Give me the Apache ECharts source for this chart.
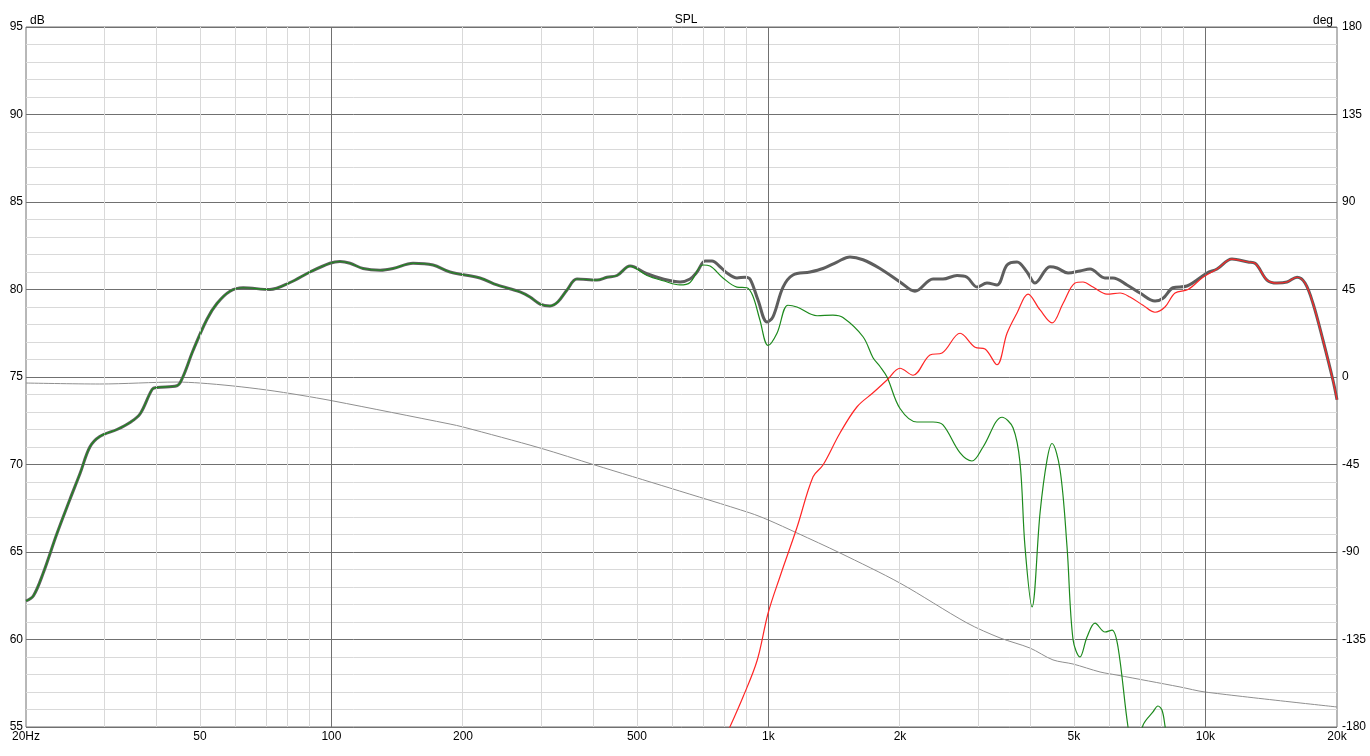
<!DOCTYPE html>
<html>
<head>
<meta charset="utf-8">
<title>SPL</title>
<script src="https://cdn.jsdelivr.net/npm/echarts@6/dist/echarts.min.js"></script>
<style>
  html, body { margin: 0; padding: 0; background: #fff; }
  #chart { width: 1370px; height: 756px; }
</style>
</head>
<body>
<div id="chart"></div>
<script>
// frequency axis labels and grid positions (Hz)
var freqTicks = [20, 50, 100, 200, 500, 1000, 2000, 5000, 10000, 20000];
var freqTickText = ["20Hz", "50", "100", "200", "500", "1k", "2k", "5k", "10k", "20k"];
var decadeLines = [100, 1000, 10000];
var minorLines = [30, 40, 50, 60, 70, 80, 90,
  200, 300, 400, 500, 600, 700, 800, 900,
  2000, 3000, 4000, 5000, 6000, 7000, 8000, 9000];

// summed response (grey, thick)
var sumFreq = [20, 20.8, 21.9, 23.5, 25.2, 26.6, 28.0, 29.5, 32.3, 34.6, 36.5, 38.9, 39.9,
  44.3, 45.7, 48.2, 51.9, 54.7, 58.6, 62.8, 72.3, 80.4, 89.3, 99.2, 104.6, 110.3, 118.1,
  129.2, 138.3, 153.7, 170.8, 186.8, 218.7, 239.3, 270.1, 284.7, 300.1, 316.3, 329.9,
  345.9, 364.6, 405.2, 427.1, 450.2, 482.3, 527.3, 573.9, 627.7, 661.6, 686.4, 716.0,
  742.9, 774.8, 803.8, 847.3, 883.7, 907.3, 946.4, 992.5, 1024, 1080, 1138, 1245, 1333,
  1435, 1537, 1646, 1800, 2000, 2164, 2380, 2508, 2701, 2847, 3001, 3163, 3334, 3515,
  3705, 3905, 4074, 4408, 4575, 4848, 5164, 5444, 5890, 6144, 6614, 7083, 7666, 7996,
  8428, 9073, 10084, 10628, 11500, 12514, 12984, 13830, 14578, 15372, 16202, 16898,
  17626, 18578, 19584, 20000];
var sumDb = [62.2, 62.5, 63.8, 66.0, 68.0, 69.5, 71.0, 71.6, 72.0, 72.4, 72.9, 74.3, 74.4,
  74.5, 75.0, 76.5, 78.3, 79.2, 79.9, 80.1, 80.0, 80.4, 81.0, 81.5, 81.6, 81.5, 81.2,
  81.1, 81.2, 81.5, 81.4, 81.0, 80.66, 80.26, 79.86, 79.57, 79.17, 79.06, 79.3,
  79.97, 80.6, 80.54, 80.7, 80.8, 81.34, 80.9, 80.6, 80.43, 80.6, 81.0, 81.63,
  81.63, 81.3, 80.94, 80.66, 80.7, 80.6, 79.4, 78.14, 78.43, 80.14, 80.83, 81.0, 81.2,
  81.57, 81.86, 81.7, 81.2, 80.43, 79.9, 80.6, 80.6, 80.8, 80.7, 80.14, 80.37, 80.26, 81.4,
  81.57, 81.0, 80.37, 81.3, 81.23, 80.94, 81.06, 81.17, 80.66, 80.66, 80.26, 79.8, 79.34, 79.5,
  80.1, 80.2, 80.94, 81.17, 81.74, 81.57, 81.5, 80.54, 80.37, 80.43, 80.7, 80.37,
  79.2, 77.1, 74.8, 73.7];

// woofer (green, thin)
var wooferFreq = [20, 20.8, 21.9, 23.5, 25.2, 26.6, 28.0, 29.5, 32.3, 34.6, 36.5, 38.9, 39.9,
  44.3, 45.7, 48.2, 51.9, 54.7, 58.6, 62.8, 72.3, 80.4, 89.3, 99.2, 104.6, 110.3, 118.1,
  129.2, 138.3, 153.7, 170.8, 186.8, 218.7, 239.3, 270.1, 284.7, 300.1, 316.3, 329.9,
  345.9, 364.6, 405.2, 427.1, 450.2, 482.3, 527.3, 573.9, 627.7, 661.6, 708, 735, 787,
  847, 893, 922, 956, 998, 1046, 1108, 1162, 1292, 1405, 1481, 1646, 1735, 1800, 1868,
  2000, 2187, 2380, 2508, 2745, 2922, 3098, 3424, 3628, 3764, 3864, 4010, 4184, 4340,
  4456, 4648, 4822, 4977, 5164, 5358, 5589, 5890, 6112, 6308, 6650, 6900, 7196, 7584,
  7786, 7952, 8080, 8296];
var wooferDb = [62.2, 62.5, 63.8, 66.0, 68.0, 69.5, 71.0, 71.6, 72.0, 72.4, 72.9, 74.3, 74.4,
  74.5, 75.0, 76.5, 78.3, 79.2, 79.9, 80.1, 80.0, 80.4, 81.0, 81.5, 81.6, 81.5, 81.2,
  81.1, 81.2, 81.5, 81.4, 81.0, 80.66, 80.26, 79.86, 79.57, 79.17, 79.06, 79.3,
  79.97, 80.6, 80.54, 80.7, 80.8, 81.34, 80.8, 80.5, 80.26, 80.4, 81.4, 81.34, 80.66,
  80.14, 80.1, 79.6, 78.26, 76.8, 77.5, 79.1, 79.0, 78.5, 78.54, 78.4, 77.3, 76.1, 75.6, 75.0,
  73.2, 72.43, 72.43, 72.26, 70.66, 70.2, 71.0, 72.7, 72.1, 70.1, 65.3, 61.86, 67.26, 70.26,
  71.2, 69.7, 65.3, 60.0, 59.0, 60.14, 60.94, 60.43, 60.54, 59.57, 55.0, 53.0, 55.1, 55.86,
  56.2, 55.97, 55.06, 53.0];

// tweeter (red, thin)
var tweeterFreq = [783, 816, 874, 942, 998, 1063, 1162, 1265, 1333, 1458, 1595, 1735, 1868,
  2000, 2142, 2342, 2496, 2745, 2970, 3131, 3334, 3515, 3705, 3926, 4184, 4456, 4721,
  5030, 5246, 5530, 5952, 6376, 6720, 7196, 7666, 8080, 8520, 9122, 9874, 10628, 11500,
  12514, 12984, 13830, 14578, 15372, 16202, 16898, 17626, 18578, 19584, 20000];
var tweeterDb = [54.0, 55.0, 56.7, 58.8, 61.5, 63.6, 66.4, 69.3, 69.97, 71.8, 73.3, 74.1, 74.83,
  75.5, 75.1, 76.26, 76.37, 77.5, 76.7, 76.6, 75.7, 77.5, 78.66, 79.74, 78.83, 78.09, 79.2,
  80.37, 80.43, 80.14, 79.74, 79.8, 79.57, 79.1, 78.7, 79.0, 79.8, 80.0, 80.7, 81.17, 81.74,
  81.57, 81.5, 80.54, 80.37, 80.43, 80.7, 80.37, 79.2, 77.1, 74.8, 73.7];

// phase (grey, thin, right axis)
var phaseFreq = [20, 29.5, 44.3, 50, 59.5, 71.2, 84.7, 100.8, 186.8, 200, 300, 401, 595,
  907, 998, 1162, 1458, 2000, 2847, 3388, 3968, 4478, 4977, 5738, 6274, 8744, 9977, 20000];
var phaseDeg = [-3.1, -3.6, -2.6, -3.1, -4.6, -6.7, -9.3, -12.3, -24.2, -25.7, -36.5, -45.3, -57.1,
  -69.9, -73.5, -80.2, -90.5, -106, -126.5, -134.2, -139.4, -145.5, -147.6, -151.7, -153.3,
  -159.4, -162, -169.7];

var font = "Liberation Sans, Arial, sans-serif";

function pairs(freq, vals) {
  return freq.map(function (f, i) {
    return [Math.log10(f), vals[i]];
  });
}

function vLines(list) {
  return list.map(function (f) {
    return { xAxis: Math.log10(f) };
  });
}

var chart = echarts.init(document.getElementById("chart"));

chart.setOption({
  animation: false,
  title: {
    text: "SPL",
    left: 681,
    textAlign: "center",
    top: 9,
    textStyle: { fontFamily: font, fontSize: 12, fontWeight: "normal", color: "#000" },
  },
  grid: {
    left: 26, right: 33, top: 27, bottom: 29,
    show: true, borderColor: "#707070", borderWidth: 1,
  },
  xAxis: {
    type: "value",
    min: Math.log10(20),
    max: Math.log10(20000),
    axisLine: { show: false },
    axisTick: { show: false },
    splitLine: { show: false },
    axisLabel: {
      customValues: freqTicks.map(function (f) { return Math.log10(f); }),
      margin: 4,
      fontFamily: font, fontSize: 12, color: "#000",
      showMinLabel: true, showMaxLabel: true,
      formatter: function (v) {
        var best = 0;
        freqTicks.forEach(function (f, i) {
          if (Math.abs(Math.log10(f) - v) < Math.abs(Math.log10(freqTicks[best]) - v)) {
            best = i;
          }
        });
        return freqTickText[best];
      },
    },
  },
  yAxis: [
    {
      type: "value",
      min: 55, max: 95, interval: 5,
      name: "dB",
      nameLocation: "end",
      nameGap: 0,
      nameTextStyle: { fontFamily: font, fontSize: 12, color: "#000", align: "left", padding: [0, 0, 0, 4] },
      axisLine: { show: false },
      axisTick: { show: false },
      axisLabel: { margin: 3, fontFamily: font, fontSize: 12, color: "#000" },
      splitLine: { lineStyle: { color: "#707070", width: 1 } },
      minorTick: { show: false, splitNumber: 5 },
      minorSplitLine: { show: true, lineStyle: { color: "#d9d9d9", width: 1 } },
    },
    {
      type: "value",
      min: -180, max: 180, interval: 45,
      position: "right",
      name: "deg",
      nameLocation: "end",
      nameGap: 0,
      nameTextStyle: { fontFamily: font, fontSize: 12, color: "#000", align: "right", padding: [0, 4, 0, 0] },
      axisLine: { show: false },
      axisTick: { show: false },
      axisLabel: { margin: 5, fontFamily: font, fontSize: 12, color: "#000" },
      splitLine: { show: false },
    },
  ],
  series: [
    {
      name: "minor grid",
      type: "line",
      data: [],
      silent: true,
      z: 1,
      markLine: {
        silent: true, symbol: "none", label: { show: false },
        lineStyle: { color: "#d9d9d9", width: 1, type: "solid" },
        data: vLines(minorLines),
      },
    },
    {
      name: "decade grid",
      type: "line",
      data: [],
      silent: true,
      z: 1,
      markLine: {
        silent: true, symbol: "none", label: { show: false },
        lineStyle: { color: "#707070", width: 1, type: "solid" },
        data: vLines(decadeLines),
      },
    },
    {
      name: "Phase",
      type: "line",
      yAxisIndex: 1,
      data: pairs(phaseFreq, phaseDeg),
      showSymbol: false,
      smooth: 0.3,
      lineStyle: { color: "#8f8f8f", width: 1 },
      z: 3,
    },
    {
      name: "Sum",
      type: "line",
      data: pairs(sumFreq, sumDb),
      showSymbol: false,
      smooth: 0.35,
      lineStyle: { color: "#5e5e5e", width: 3 },
      z: 4,
    },
    {
      name: "Woofer",
      type: "line",
      data: pairs(wooferFreq, wooferDb),
      showSymbol: false,
      smooth: 0.35,
      lineStyle: { color: "#1d8a1d", width: 1.2 },
      z: 5,
    },
    {
      name: "Tweeter",
      type: "line",
      data: pairs(tweeterFreq, tweeterDb),
      showSymbol: false,
      smooth: 0.35,
      lineStyle: { color: "#ff2626", width: 1.2 },
      z: 5,
    },
  ],
});

window.addEventListener("resize", function () {
  chart.resize();
});
</script>
</body>
</html>
